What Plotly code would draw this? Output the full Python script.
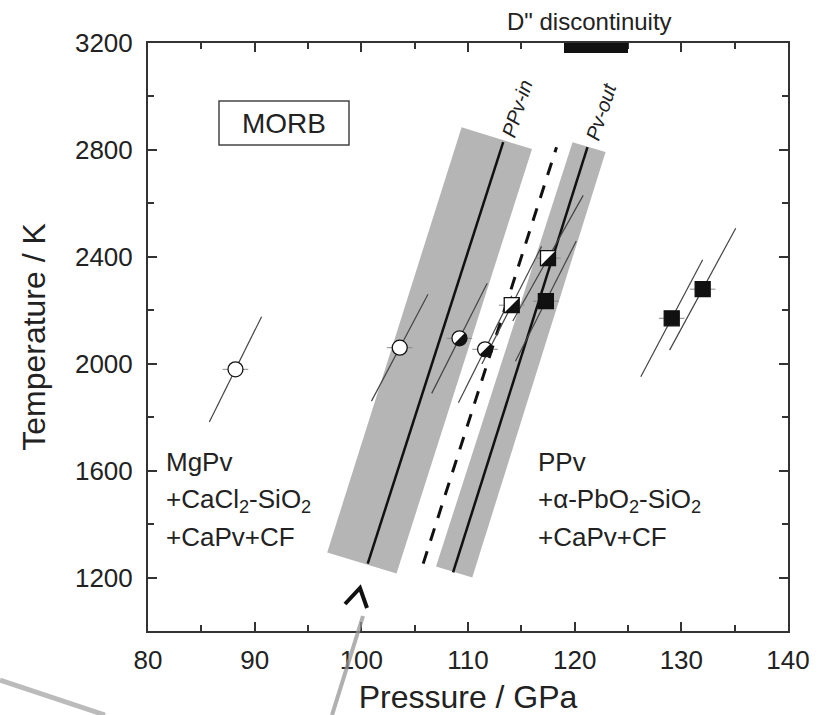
import numpy as np
import plotly.graph_objects as go

# ---------------- data ----------------
x_range = [80, 140]
y_range = [1000, 3200]
x_tickvals = [80, 90, 100, 110, 120, 130, 140]
y_tickvals = [1200, 1600, 2000, 2400, 2800, 3200]

# PPv-in boundary (solid) and its uncertainty band
ppv_in_P = [100.6, 113.3]
ppv_in_T = [1252, 2829]
ppv_in_band_P = [96.8, 103.3, 116.0, 109.4]
ppv_in_band_T = [1294, 1215, 2803, 2885]

# Pv-out boundary (solid) and its uncertainty band
pv_out_P = [108.6, 121.2]
pv_out_T = [1219, 2810]
pv_out_band_P = [107.0, 110.4, 122.9, 119.8]
pv_out_band_T = [1241, 1200, 2792, 2829]

# dashed boundary
dashed_P = [105.8, 118.3]
dashed_T = [1252, 2810]

# experimental points
pt_P = [88.2, 103.6, 109.2, 111.6, 114.1, 117.5, 117.3, 129.1, 132.0]
pt_T = [1979, 2060, 2095, 2054, 2219, 2395, 2234, 2170, 2279]
pt_kind = ["open_circle", "open_circle", "half_circle", "half_circle",
           "half_square", "half_square", "square", "square", "square"]
# slanted uncertainty segments (half extent in P and T)
pt_dP = [2.45, 2.65, 2.6, 2.5, 2.8, 3.3, 2.85, 2.9, 3.1]
pt_dT = [197, 200, 206, 200, 220, 235, 225, 219, 228]
pt_errP = [1.2, 1.2, 1.2, 1.2, 1.2, 1.2, 1.2, 1.2, 1.2]

# D" discontinuity pressure range
d_disc_P = [119, 125]

# ---------------- layout constants ----------------
W, H = 824, 715
ML, MR, MT, MB = 148, 36, 43, 84
PW, PH = W - ML - MR, H - MT - MB
FONT = "Liberation Sans, Arial, sans-serif"
GRAY_BAND = "#b5b5b5"


def px(x):
    return (x - ML) / PW


def py(y):
    return (H - MB - y) / PH


fig = go.Figure()

# bands
for bp, bt in [(ppv_in_band_P, ppv_in_band_T), (pv_out_band_P, pv_out_band_T)]:
    fig.add_trace(go.Scatter(x=bp, y=bt, fill="toself", fillcolor=GRAY_BAND,
                             mode="none", hoverinfo="skip", showlegend=False))

# boundaries
for lp, lt in [(ppv_in_P, ppv_in_T), (pv_out_P, pv_out_T)]:
    fig.add_trace(go.Scatter(x=lp, y=lt, mode="lines",
                             line=dict(color="#111", width=2.5),
                             showlegend=False, hoverinfo="skip"))
fig.add_trace(go.Scatter(x=dashed_P, y=dashed_T, mode="lines",
                         line=dict(color="#111", width=3, dash="13px,11px"),
                         showlegend=False, hoverinfo="skip"))

# slanted uncertainty segments
sx, sy = [], []
for p, t, dp, dt in zip(pt_P, pt_T, pt_dP, pt_dT):
    sx += [p - dp, p + dp, None]
    sy += [t - dt, t + dt, None]
fig.add_trace(go.Scatter(x=sx, y=sy, mode="lines",
                         line=dict(color="#444", width=1.2),
                         showlegend=False, hoverinfo="skip"))

# markers
def add_pts(kinds, symbol, fill):
    idx = [i for i, k in enumerate(pt_kind) if k in kinds]
    fig.add_trace(go.Scatter(
        x=[pt_P[i] for i in idx], y=[pt_T[i] for i in idx], mode="markers",
        marker=dict(symbol=symbol, size=15, color=fill,
                    line=dict(color="#111", width=1.3)),
        error_x=dict(type="data", array=[pt_errP[i] for i in idx],
                     color="#888", thickness=1, width=0),
        showlegend=False, hoverinfo="skip"))


add_pts({"open_circle", "half_circle"}, "circle", "white")
add_pts({"half_square"}, "square", "white")
add_pts({"square"}, "square", "#111")

shapes = []
# black halves for half-filled symbols (pixel-sized paths anchored at data)
r = 7.5
ang = np.radians(np.linspace(-135, 45, 25))
half_circle_path = "M" + " L".join(f"{r*np.cos(a):.2f},{r*np.sin(a):.2f}" for a in ang) + " Z"
s = 7.5
half_square_path = f"M{s},{s} L{s},{-s} L{-s},{-s} Z"
for p, t, k in zip(pt_P, pt_T, pt_kind):
    if k in ("half_circle", "half_square"):
        shapes.append(dict(type="path", xref="x", yref="y",
                           xsizemode="pixel", ysizemode="pixel",
                           xanchor=p, yanchor=t,
                           path=half_circle_path if k == "half_circle" else half_square_path,
                           fillcolor="#111", line=dict(width=0), layer="above"))

# D" discontinuity bar
shapes.append(dict(type="rect", xref="x", yref="paper",
                   x0=d_disc_P[0], x1=d_disc_P[1], y0=1 - 10 / PH, y1=1,
                   fillcolor="#111", line=dict(width=0), layer="above"))

# MORB box
shapes.append(dict(type="rect", xref="paper", yref="paper",
                   x0=px(219), x1=px(349), y0=py(145), y1=py(101),
                   line=dict(color="#444", width=1.5), fillcolor="white", layer="below"))

# overlay marks outside the plot (caret + grey strokes)
shapes.append(dict(type="path", xref="paper", yref="paper",
                   path=f"M{px(345)},{py(604)} L{px(360)},{py(588)} L{px(367)},{py(608)}",
                   line=dict(color="#111", width=4), layer="above"))
shapes.append(dict(type="line", xref="paper", yref="paper",
                   x0=px(363), y0=py(616), x1=px(332), y1=py(715),
                   line=dict(color="rgba(150,150,150,0.75)", width=4), layer="above"))
shapes.append(dict(type="line", xref="paper", yref="paper",
                   x0=px(0), y0=py(680), x1=px(105), y1=py(715),
                   line=dict(color="rgba(170,170,170,0.8)", width=5), layer="above"))

annotations = []


def txt(x, y, s, size, anchor="left", angle=0, italic=False):
    annotations.append(dict(
        x=px(x), y=py(y), xref="paper", yref="paper", text=s, showarrow=False,
        xanchor=anchor, yanchor="middle", textangle=angle,
        font=dict(family=FONT, size=size, color="#222",
                  style="italic" if italic else "normal")))


txt(284, 123, "MORB", 28, anchor="center")
txt(164, 462, "MgPv", 26)
txt(164, 500, "+CaCl<sub>2</sub>-SiO<sub>2</sub>", 26)
txt(164, 537, "+CaPv+CF", 26)
txt(536, 462, "PPv", 26)
txt(536, 500, "+α-PbO<sub>2</sub>-SiO<sub>2</sub>", 26)
txt(536, 537, "+CaPv+CF", 26)
txt(589, 22, "D\" discontinuity", 24, anchor="center")
txt(517, 109, "PPv-in", 20, anchor="center", angle=-72, italic=True)
txt(601, 112, "Pv-out", 20, anchor="center", angle=-72, italic=True)

axis_common = dict(
    showline=True, linecolor="#333", linewidth=2, mirror="ticks",
    ticks="inside", tickcolor="#333", tickwidth=2, ticklen=9,
    showgrid=False, zeroline=False,
    tickfont=dict(family=FONT, size=26, color="#222"),
    title_font=dict(family=FONT, size=32, color="#222"),
)

fig.update_layout(
    width=W, height=H,
    margin=dict(l=ML, r=MR, t=MT, b=MB, autoexpand=False),
    paper_bgcolor="white", plot_bgcolor="white",
    showlegend=False,
    shapes=shapes, annotations=annotations,
    xaxis=dict(range=x_range, tickvals=x_tickvals, ticklabelstandoff=5,
               minor=dict(dtick=5, tick0=80, ticks="inside", ticklen=6, tickwidth=2, tickcolor="#333"),
               title=dict(text="Pressure / GPa", standoff=14), **axis_common),
    yaxis=dict(range=y_range, tickvals=y_tickvals, ticklabelstandoff=8,
               minor=dict(dtick=200, tick0=1000, ticks="inside", ticklen=6, tickwidth=2, tickcolor="#333"),
               title=dict(text="Temperature / K", standoff=20), **axis_common),
)

fig.write_html("out.html")
